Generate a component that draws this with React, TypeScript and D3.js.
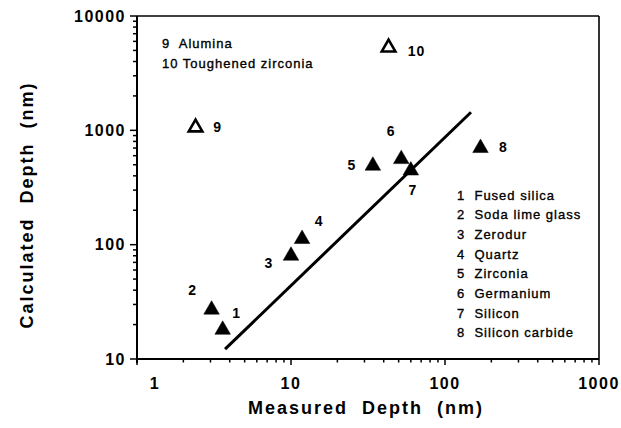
import React from "react";
import * as d3 from "d3";

const materialIds = [1, 2, 3, 4, 5, 6, 7, 8, 9, 10];
const measuredDepth = [3.6, 3.05, 10, 11.8, 34, 52, 60, 170, 2.4, 43];
const calculatedDepth = [18, 27, 80, 112, 490, 560, 445, 700, 1060, 5300];
const isOpenMarker = [false, false, false, false, false, false, false, false, true, true];
const legendMain = [
  "1  Fused silica",
  "2  Soda lime glass",
  "3  Zerodur",
  "4  Quartz",
  "5  Zirconia",
  "6  Germanium",
  "7  Silicon",
  "8  Silicon carbide",
];
const legendTop = ["9  Alumina", "10 Toughened zirconia"];
const fitX = [3.73, 147.5];
const fitY = [12.2, 1440];
const xTickLabels = ["1", "10", "100", "1000"];
const yTickLabels = ["10", "100", "1000", "10000"];

// label offsets (layout only)
const labelOffsets: [number, number][] = [
  [14, -17], [-19, -20], [-22, 7], [17, -18], [-21, -1],
  [-10, -28], [2, 19], [23, -1], [22, 0], [28, 3],
];

const W = 621;
const H = 428;
const FONT = "'Liberation Sans', Arial, Helvetica, sans-serif";

export default function App() {
  const x = d3.scaleLog().domain([1, 1000]).range([137, 599]);
  const y = d3.scaleLog().domain([10, 10000]).range([359, 16]);
  const xTicks = x.ticks();
  const yTicks = y.ticks();
  const isMajor = (v: number) => Math.abs(Math.log10(v) - Math.round(Math.log10(v))) < 1e-9;
  const tri = d3.symbol().type(d3.symbolTriangle).size(105)();
  const triOpen = d3.symbol().type(d3.symbolTriangle).size(80)();
  const line = d3
    .line<number>()
    .x((_, i) => x(fitX[i]))
    .y((d) => y(d));

  return (
    <div style={{ position: "absolute", left: 0, top: 0 }}>
      <svg width={W} height={H} style={{ display: "block", background: "#fff" }} fontFamily={FONT}>
        {/* frame */}
        <line x1={x(1)} x2={x(1000)} y1={y(10000)} y2={y(10000)} stroke="#000" strokeWidth={1.6} />
        <line x1={x(1000)} x2={x(1000)} y1={y(10000)} y2={y(10)} stroke="#000" strokeWidth={1.6} />
        {/* axes */}
        <line x1={x(1)} x2={x(1000)} y1={y(10)} y2={y(10)} stroke="#000" strokeWidth={2} />
        <line x1={x(1)} x2={x(1)} y1={y(10000)} y2={y(10) + 4} stroke="#000" strokeWidth={2} />
        {xTicks.map((t, i) => (
          <line
            key={"xt" + i}
            x1={x(t)}
            x2={x(t)}
            y1={y(10)}
            y2={y(10) + (isMajor(t) ? 6 : 3.5)}
            stroke="#000"
            strokeWidth={1.5}
          />
        ))}
        {yTicks.map((t, i) => (
          <line
            key={"yt" + i}
            x1={x(1)}
            x2={x(1) - (isMajor(t) ? 7 : 4)}
            y1={y(t)}
            y2={y(t)}
            stroke="#000"
            strokeWidth={1.5}
          />
        ))}
        {xTickLabels.map((s, i) => (
          <text
            key={"xl" + i}
            x={x(+s) + (i === 0 ? 18 : 0)}
            y={y(10) + 24}
            textAnchor="middle"
            dominantBaseline="central"
            fontSize={16}
            fontWeight="bold"
            letterSpacing={1.5}
          >
            {s}
          </text>
        ))}
        {yTickLabels.map((s, i) => (
          <text
            key={"yl" + i}
            x={x(1) - 11}
            y={y(+s)}
            textAnchor="end"
            dominantBaseline="central"
            fontSize={16}
            fontWeight="bold"
            letterSpacing={1.5}
          >
            {s}
          </text>
        ))}
        {/* axis titles */}
        <text
          x={366}
          y={408}
          textAnchor="middle"
          dominantBaseline="central"
          fontSize={18}
          fontWeight="bold"
          letterSpacing={2}
          style={{ whiteSpace: "pre" }}
        >
          {"Measured  Depth  (nm)"}
        </text>
        <text
          transform="translate(27,205) rotate(-90)"
          textAnchor="middle"
          dominantBaseline="central"
          fontSize={18}
          fontWeight="bold"
          letterSpacing={2}
          style={{ whiteSpace: "pre" }}
        >
          {"Calculated  Depth  (nm)"}
        </text>
        {/* fit line */}
        <path d={line(fitY) || ""} fill="none" stroke="#000" strokeWidth={3} />
        {/* markers */}
        {materialIds.map((id, i) => (
          <g key={"p" + id}>
            <path
              d={isOpenMarker[i] ? triOpen || "" : tri || ""}
              transform={`translate(${x(measuredDepth[i])},${y(calculatedDepth[i])})`}
              fill={isOpenMarker[i] ? "#fff" : "#000"}
              stroke="#000"
              strokeWidth={isOpenMarker[i] ? 2.6 : 0.5}
              strokeLinejoin="miter"
            />
            <text
              x={x(measuredDepth[i]) + labelOffsets[i][0]}
              y={y(calculatedDepth[i]) + labelOffsets[i][1]}
              textAnchor="middle"
              dominantBaseline="central"
              fontSize={14}
              fontWeight="bold"
              letterSpacing={1}
            >
              {id}
            </text>
          </g>
        ))}
        {/* top legend */}
        {legendTop.map((s, i) => (
          <text
            key={"lt" + i}
            x={162}
            y={43 + i * 20}
            dominantBaseline="central"
            fontSize={13}
            letterSpacing={1}
            stroke="#000"
            strokeWidth={0.35}
            style={{ whiteSpace: "pre" }}
          >
            {s}
          </text>
        ))}
        {/* right legend */}
        {legendMain.map((s, i) => (
          <text
            key={"lm" + i}
            x={457}
            y={195 + i * 19.7}
            dominantBaseline="central"
            fontSize={13}
            letterSpacing={1}
            stroke="#000"
            strokeWidth={0.35}
            style={{ whiteSpace: "pre" }}
          >
            {s}
          </text>
        ))}
      </svg>
    </div>
  );
}
